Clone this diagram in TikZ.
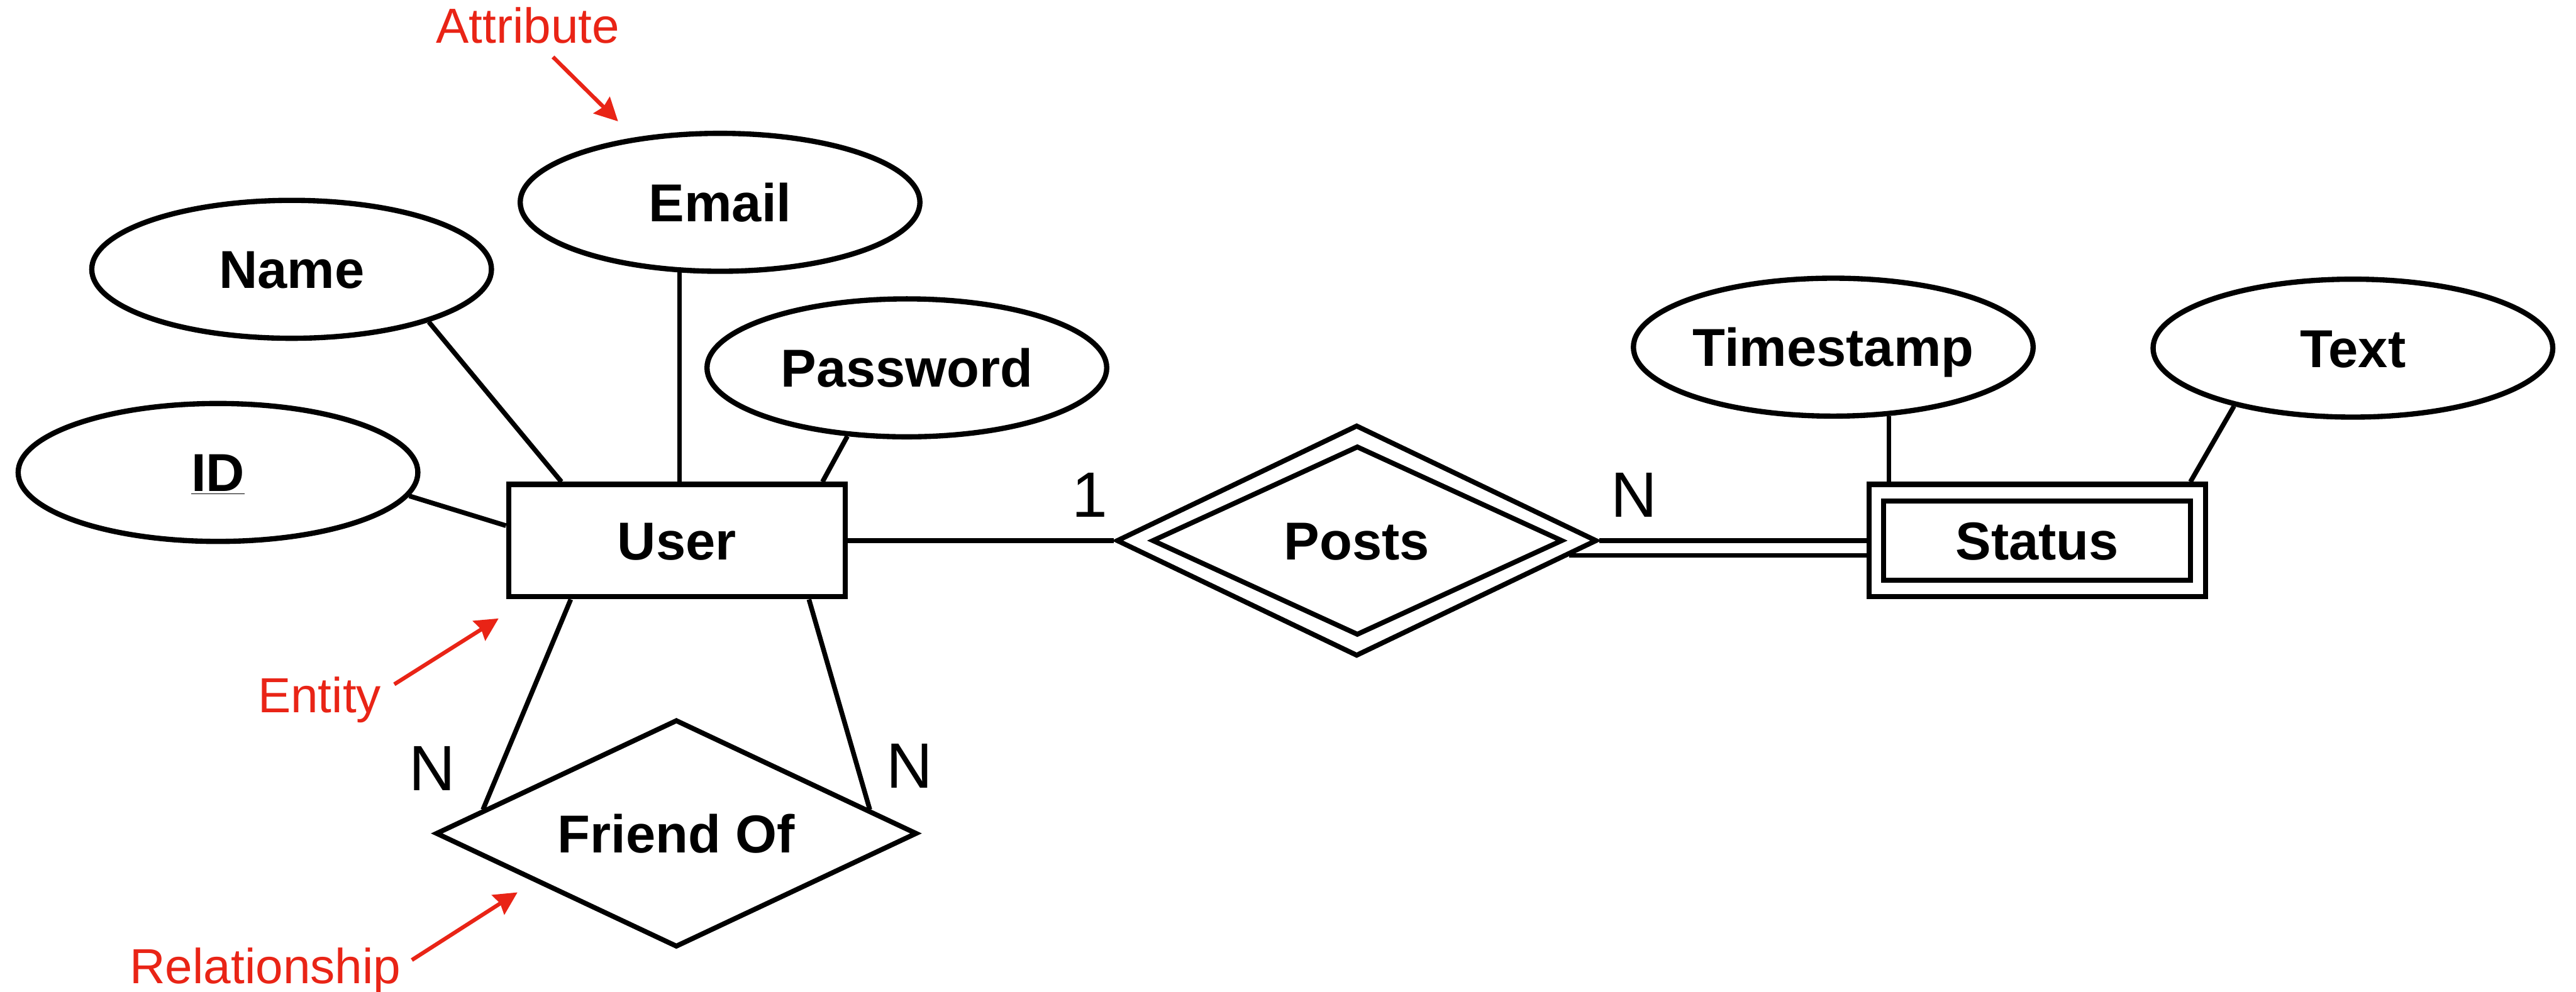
\documentclass[tikz,border=0pt]{standalone}
\usepackage{fontspec}
\setmainfont{Liberation Sans}
\usetikzlibrary{shapes.geometric,arrows.meta}
\definecolor{annotred}{RGB}{233,36,22}
\tikzset{
  attr/.style={ellipse, draw, line width=3.2pt, inner sep=0pt,
    minimum width=243.3pt, minimum height=84pt,
    font=\fontsize{32.5}{36}\selectfont\bfseries, text height=23.3pt, text depth=0pt},
  entity/.style={rectangle, draw, line width=3.2pt, inner sep=0pt,
    minimum width=204.8pt, minimum height=68.4pt,
    font=\fontsize{32.5}{36}\selectfont\bfseries, text height=23.3pt, text depth=0pt},
  rel/.style={diamond, draw, line width=3pt, aspect=2, inner sep=0pt,
    minimum width=293pt, minimum height=138.5pt,
    font=\fontsize{32.5}{36}\selectfont\bfseries, text height=23.3pt, text depth=0pt},
  conn/.style={line width=2.9pt},
  card/.style={font=\fontsize{39}{44}\selectfont, anchor=base, inner sep=0pt},
  annotlabel/.style={text=annotred, font=\fontsize{30}{34}\selectfont, anchor=base, inner sep=0pt},
  annotarrow/.style={draw=annotred, line width=2.4pt,
    -{Stealth[length=14pt,width=14pt,inset=1.5pt]}},
}
\begin{document}
\begin{tikzpicture}[x=1pt,y=-1pt]
\useasboundingbox (0,0) rectangle (1568,604);
\fill[white] (0,0) rectangle (1568,604);

% attributes
\node[attr] (email) at (438.3,123.2) {Email};
\node[attr] (name) at (177.5,164) {Name};
\node[attr] (id) at (132.7,287.7) {\underline{ID}};
\node[attr] (pwd) at (552,224) {Password};
\node[attr] (ts) at (1115.9,211.4) {Timestamp};
\node[attr] (txt) at (1432.2,212) {Text};

% entities
\node[entity] (user) at (412,329.2) {User};
\node[entity] (status) at (1240,329.2) {Status};
\node[entity, minimum width=186.8pt, minimum height=48.4pt] (statusin) at (1240,329.2) {};

% relationships
\node[rel, minimum width=292.5pt, minimum height=140.8pt] (posts) at (825.8,329.2) {Posts};
\node[rel, minimum width=250pt, minimum height=115.3pt] (postsin) at (826.2,329.2) {};
\node[rel] (friend) at (411.7,507.5) {Friend Of};

% connectors
\draw[conn] (email.240.6) -- (email.240.6 |- user.north);
\draw[conn] (name.-21.9) -- (user.153.3);
\draw[conn] (id.-7.46) -- (user.175.2);
\draw[conn] (pwd.229.2) -- (user.22.6);
\draw[conn] (ts.309.7) -- (ts.309.7 |- status.north);
\draw[conn] (txt.206.1) -- (status.21.9);
\draw[conn] (user.209.1) -- (friend.173.6);
\draw[conn] (user.-24.4) -- (friend.7.6);
\draw[conn] (user.east) -- (posts.west);
\draw[conn] (posts.east) -- (posts.east -| status.west);
\draw[conn] (posts.-4.56) -- (posts.-4.56 -| status.west);

% cardinalities
\node[card] (c1) at (663.5,315) {1};
\node[card] (c2) at (994.5,315) {N};
\node[card] (c3) at (263,481.4) {N};
\node[card] (c4) at (553.5,479.8) {N};

% annotations
\node[annotlabel] (lattr) at (321.3,26.2) {Attribute};
\node[annotlabel] (lent) at (194.5,434) {Entity};
\node[annotlabel] (lrel) at (161.5,598.8) {Relationship};
\coordinate (a1s) at (336.6,34.7);
\coordinate (a1e) at (376.2,73.9);
\coordinate (a2s) at (240,416.7);
\coordinate (a2e) at (303.5,376.6);
\coordinate (a3s) at (250.7,584.6);
\coordinate (a3e) at (315,543.4);
\draw[annotarrow] (a1s) -- (a1e);
\draw[annotarrow] (a2s) -- (a2e);
\draw[annotarrow] (a3s) -- (a3e);
\end{tikzpicture}
\end{document}
